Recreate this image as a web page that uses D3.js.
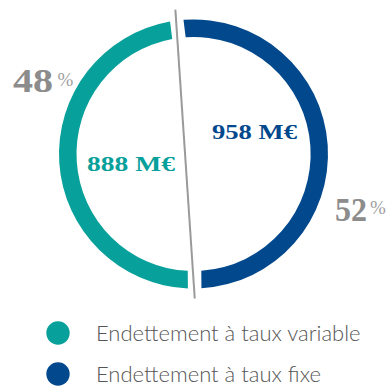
<!DOCTYPE html>
<html>
<head>
<meta charset="utf-8">
<script src="https://cdn.jsdelivr.net/npm/d3@7/dist/d3.min.js"></script>
<style>
  html, body { margin: 0; padding: 0; background: #ffffff; }
  svg { display: block; }
</style>
</head>
<body>
<script>
// Debt split: variable rate vs fixed rate (M€)
const categories = ["Endettement à taux variable", "Endettement à taux fixe"];
const amounts = [888, 958];
const percentLabels = ["48", "52"];
const amountLabels = ["888 M€", "958 M€"];
const colors = ["#07a09a", "#02488c"];

const width = 388, height = 386;
const cx = 193.5, cy = 154;
const outerR = 134.5, innerR = 117;

const svg = d3.select("body").append("svg")
  .attr("width", width)
  .attr("height", height);

const deg = Math.PI / 180;
const pie = d3.pie()
  .sort(null)
  .value(d => d)
  .startAngle(179.5 * deg)
  .endAngle(539.5 * deg)
  .padAngle(0.076);

const arcs = pie(amounts);
const arc = d3.arc().innerRadius(innerR).outerRadius(outerR);

const g = svg.append("g").attr("transform", `translate(${cx},${cy})`);

g.selectAll("path.slice")
  .data(arcs)
  .join("path")
  .attr("class", "slice")
  .attr("d", arc)
  .attr("fill", (d, i) => colors[i]);

// Divider drawn through the two gaps between the slices
const polar = (a, r) => [Math.sin(a) * r, -Math.cos(a) * r];
const topGap = arcs[1].startAngle;
const bottomGap = arcs[0].startAngle;
const p1 = polar(topGap, outerR + 11);
const p2 = polar(bottomGap, outerR + 10);
g.append("line")
  .attr("x1", p1[0]).attr("y1", p1[1])
  .attr("x2", p2[0]).attr("y2", p2[1])
  .attr("stroke", "#9a9a9a")
  .attr("stroke-width", 2);

// Percent labels outside the ring
const serif = "'Liberation Serif', 'DejaVu Serif', serif";
const pctPos = [
  {x: -180.5, y: -62, w: 40, px: -136, py: -68},
  {x: 141.5, y: 67, w: 32, px: 176.5, py: 60}
];
pctPos.forEach((p, i) => {
  g.append("text")
    .attr("x", p.x).attr("y", p.y)
    .attr("font-family", serif)
    .attr("font-weight", "bold")
    .attr("font-size", 33)
    .attr("textLength", p.w)
    .attr("lengthAdjust", "spacingAndGlyphs")
    .attr("fill", "#8c8c8c")
    .text(percentLabels[i]);
  g.append("text")
    .attr("x", p.px).attr("y", p.py)
    .attr("font-family", serif)
    .attr("font-size", 19)
    .attr("fill", "#a0a0a0")
    .text("%");
});

// Amount labels inside the ring
const amtPos = [{x: -106.5, y: 17, w: 88}, {x: 18.5, y: -15, w: 85}];
amtPos.forEach((p, i) => {
  g.append("text")
    .attr("x", p.x).attr("y", p.y)
    .attr("font-family", serif)
    .attr("font-weight", "bold")
    .attr("font-size", 20)
    .attr("textLength", p.w)
    .attr("lengthAdjust", "spacingAndGlyphs")
    .attr("fill", colors[i])
    .text(amountLabels[i]);
});

// Legend
const legend = svg.append("g").attr("transform", "translate(58,333)");
const items = legend.selectAll("g.item")
  .data(categories)
  .join("g")
  .attr("class", "item")
  .attr("transform", (d, i) => `translate(0,${i * 41})`);
items.append("circle")
  .attr("r", 11.7)
  .attr("fill", (d, i) => colors[i]);
items.append("text")
  .attr("x", 38)
  .attr("y", 7.5)
  .attr("font-family", "Lato, 'Open Sans', sans-serif")
  .attr("font-weight", 300)
  .attr("font-size", 22)
  .attr("fill", "#555555")
  .text(d => d);
</script>
</body>
</html>
